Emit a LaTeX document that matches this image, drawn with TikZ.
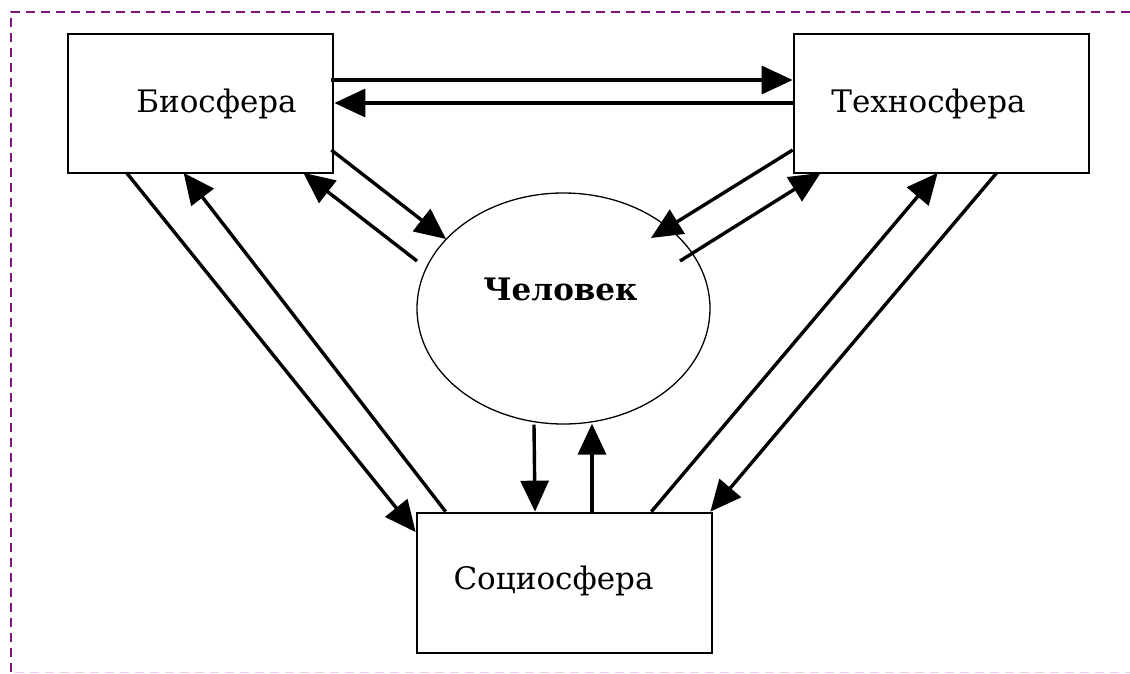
\documentclass[tikz,border=0pt]{standalone}
\usepackage{fontspec}
\setmainfont{DejaVu Serif}
\usetikzlibrary{arrows.meta,calc,shapes.geometric}
\definecolor{frame}{RGB}{128,20,128}
\definecolor{framelight}{RGB}{240,200,240}
\tikzset{
  sphere/.style={draw=black, line width=2.7pt, fill=white, inner sep=0pt},
  human/.style={ellipse, draw=black, line width=1.3pt, fill=white, minimum width=293pt, minimum height=231pt, inner sep=0pt},
  conn/.style={line width=3.4pt, -{Triangle[length=31pt,width=28pt]}},
  lbl/.style={font=\fontsize{31}{36}\selectfont},
  blbl/.style={font=\fontsize{31}{36}\selectfont\bfseries},
}
\begin{document}
\begin{tikzpicture}[x=1pt,y=-1pt]
\useasboundingbox (0,0) rectangle (1130,673);
% frame
\draw[frame, line width=1.3pt, dash pattern=on 9pt off 6pt] (11,672) -- (11,12) -- (1135,12);
\draw[framelight, line width=1pt, dash pattern=on 9pt off 6pt] (15,672) -- (1135,672);
% nodes
\node[sphere, minimum width=265pt, minimum height=139pt,
  label={[lbl, xshift=16pt, yshift=0pt]center:Биосфера}] (bio) at (200.5,103.5) {};
\node[sphere, minimum width=295pt, minimum height=139pt,
  label={[lbl, xshift=-13pt, yshift=0pt]center:Техносфера}] (tech) at (941.5,103.5) {};
\node[sphere, minimum width=295pt, minimum height=140pt,
  label={[lbl, xshift=-11pt, yshift=2pt]center:Социосфера}] (soc) at (564.5,583) {};
\node[human, label={[blbl, xshift=-3pt, yshift=19pt]center:Человек}] (man) at (563.5,308.5) {};
% horizontal pair
\draw[conn] ($(bio.east)+(-3,-23.5)$) -- ($(tech.west)+(0,-23.5)$);
\draw[conn] ($(tech.west)+(0,-0.5)$) -- ($(bio.east)+(0,-0.5)$);
% bio <-> man
\draw[conn] ($(bio.east)+(-3,46.5)$) -- ($(man.center)+(-117.5,-69.5)$);
\draw[conn] ($(man.center)+(-146.5,-47.5)$) -- ($(bio.south east)+(-31,-1.5)$);
% tech <-> man
\draw[conn] ($(tech.west)+(0,46.5)$) -- ($(man.center)+(87.5,-70.5)$);
\draw[conn] ($(man.center)+(116.5,-47.5)$) -- ($(tech.south west)+(28,-1.5)$);
% bio <-> soc
\draw[conn] ($(bio.south west)+(60,-1.5)$) -- ($(soc.west)+(0,-51)$);
\draw[conn] ($(soc.north west)+(30,0)$) -- ($(bio.south west)+(117,-1.5)$);
% tech <-> soc
\draw[conn] ($(soc.north east)+(-62,0)$) -- ($(tech.south west)+(145,-1.5)$);
\draw[conn] ($(tech.south west)+(204,-1.5)$) -- ($(soc.north east)+(-3,0)$);
% man <-> soc
\draw[conn] ($(man.south)+(-29.5,0)$) -- ($(soc.north)+(-29.5,0)$);
\draw[conn] ($(soc.north)+(27.5,0)$) -- ($(man.south)+(28.5,-1)$);
\end{tikzpicture}
\end{document}
